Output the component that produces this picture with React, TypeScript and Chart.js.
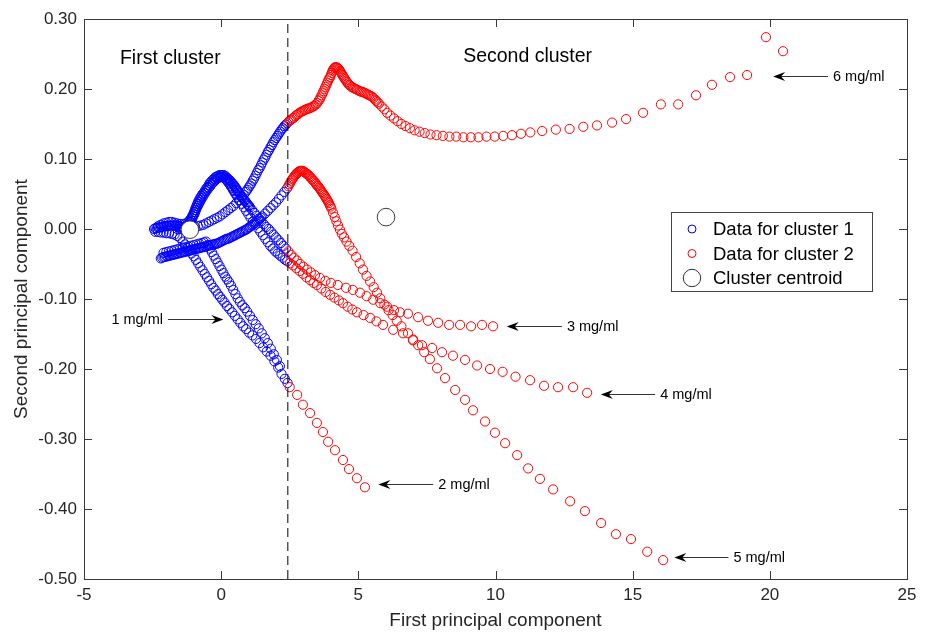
import React, { useEffect, useRef } from "react";
import { Chart, registerables } from "chart.js";
Chart.register(...registerables);

type P = [number, number];

// ---- Trajectory data (first PC, second PC) ----
const t1Blue: P[] = [[-2.10,-0.034],[-2.00,-0.033],[-1.90,-0.032],[-1.80,-0.031],[-1.70,-0.030],[-1.60,-0.029],[-1.50,-0.028],[-1.40,-0.027],[-1.30,-0.026],[-1.20,-0.025],[-1.10,-0.024],[-1.00,-0.023],[-0.90,-0.022],[-0.80,-0.021],[-0.70,-0.020],[-0.62,-0.019],[-0.55,-0.018],[-0.48,-0.023],[-0.41,-0.028],[-0.34,-0.033],[-0.27,-0.038],[-0.20,-0.043],[-0.13,-0.048],[-0.06,-0.053],[0.01,-0.058],[0.08,-0.063],[0.15,-0.068],[0.22,-0.072],[0.29,-0.076],[0.36,-0.081],[0.44,-0.087],[0.52,-0.093],[0.60,-0.099],[0.68,-0.104],[0.77,-0.109],[0.86,-0.113],[0.95,-0.118],[1.05,-0.124],[1.15,-0.130],[1.26,-0.136],[1.37,-0.142],[1.48,-0.149],[1.59,-0.156],[1.70,-0.163],[1.81,-0.171],[1.92,-0.179],[2.03,-0.187],[2.14,-0.196]];

const t2Blue: P[] = [[-2.40,-0.004],[-2.30,-0.004],[-2.20,-0.005],[-2.10,-0.005],[-2.00,-0.006],[-1.90,-0.006],[-1.80,-0.007],[-1.70,-0.008],[-1.60,-0.010],[-1.50,-0.013],[-1.40,-0.018],[-1.32,-0.022],[-1.24,-0.027],[-1.16,-0.031],[-1.08,-0.035],[-1.00,-0.039],[-0.92,-0.044],[-0.84,-0.049],[-0.76,-0.054],[-0.68,-0.059],[-0.60,-0.064],[-0.52,-0.069],[-0.44,-0.074],[-0.36,-0.079],[-0.28,-0.084],[-0.20,-0.088],[-0.12,-0.093],[-0.04,-0.097],[0.04,-0.101],[0.12,-0.105],[0.21,-0.110],[0.30,-0.114],[0.40,-0.119],[0.50,-0.124],[0.60,-0.129],[0.70,-0.134],[0.80,-0.139],[0.91,-0.143],[1.02,-0.148],[1.14,-0.152],[1.27,-0.157],[1.40,-0.163],[1.53,-0.169],[1.66,-0.175],[1.80,-0.181],[1.94,-0.189],[2.08,-0.198],[2.20,-0.207],[2.32,-0.214],[2.42,-0.220]];
const t2Red: P[] = [[2.50,-0.226],[2.77,-0.237],[2.98,-0.251],[3.24,-0.263],[3.49,-0.277],[3.71,-0.290],[3.90,-0.304],[4.15,-0.316],[4.44,-0.330],[4.66,-0.343],[4.95,-0.356],[5.24,-0.369]];

const t3Blue: P[] = [[-2.30,0.004],[-2.20,0.006],[-2.10,0.008],[-2.00,0.009],[-1.90,0.010],[-1.80,0.010],[-1.70,0.009],[-1.60,0.008],[-1.50,0.007],[-1.40,0.007],[-1.30,0.008],[-1.20,0.010],[-1.16,0.012],[-1.12,0.014],[-1.08,0.016],[-1.05,0.019],[-1.02,0.021],[-0.99,0.024],[-0.96,0.027],[-0.93,0.030],[-0.90,0.033],[-0.87,0.036],[-0.84,0.039],[-0.80,0.042],[-0.76,0.045],[-0.72,0.047],[-0.68,0.050],[-0.63,0.052],[-0.59,0.055],[-0.54,0.058],[-0.50,0.060],[-0.45,0.063],[-0.41,0.066],[-0.36,0.068],[-0.31,0.070],[-0.26,0.072],[-0.21,0.074],[-0.16,0.075],[-0.11,0.076],[-0.06,0.077],[-0.01,0.077],[0.04,0.077],[0.09,0.077],[0.13,0.076],[0.17,0.075],[0.21,0.073],[0.25,0.072],[0.29,0.070],[0.33,0.069],[0.37,0.067],[0.41,0.065],[0.44,0.064],[0.48,0.062],[0.51,0.060],[0.55,0.058],[0.58,0.056],[0.61,0.054],[0.64,0.052],[0.67,0.051],[0.70,0.049],[0.74,0.047],[0.77,0.045],[0.81,0.043],[0.84,0.041],[0.88,0.040],[0.91,0.038],[0.95,0.036],[0.98,0.034],[1.02,0.033],[1.05,0.031],[1.13,0.027],[1.21,0.023],[1.29,0.019],[1.37,0.015],[1.46,0.011],[1.55,0.007],[1.64,0.003],[1.73,0.000],[1.82,-0.004],[1.91,-0.008],[2.00,-0.012],[2.09,-0.016],[2.18,-0.020],[2.27,-0.024],[2.36,-0.028]];
const t3Red: P[] = [[2.45,-0.032],[2.55,-0.037],[2.65,-0.041],[2.76,-0.045],[2.88,-0.050],[3.00,-0.054],[3.13,-0.058],[3.27,-0.062],[3.42,-0.066],[3.60,-0.070],[3.80,-0.074],[4.00,-0.077],[4.25,-0.080],[4.55,-0.084],[4.80,-0.087],[5.06,-0.091],[5.30,-0.096],[5.54,-0.101],[5.80,-0.106],[6.05,-0.111],[6.30,-0.116],[6.52,-0.119],[6.81,-0.121],[7.18,-0.126],[7.54,-0.131],[7.91,-0.134],[8.31,-0.137],[8.71,-0.137],[9.11,-0.139],[9.51,-0.137],[9.91,-0.139]];

const t4Blue: P[] = [[-1.60,0.000],[-1.50,0.000],[-1.40,0.001],[-1.30,0.003],[-1.20,0.006],[-1.16,0.008],[-1.12,0.010],[-1.08,0.012],[-1.05,0.015],[-1.02,0.018],[-0.98,0.021],[-0.95,0.024],[-0.92,0.027],[-0.89,0.030],[-0.85,0.033],[-0.81,0.036],[-0.77,0.039],[-0.73,0.042],[-0.68,0.045],[-0.64,0.048],[-0.59,0.051],[-0.55,0.054],[-0.50,0.056],[-0.45,0.059],[-0.40,0.061],[-0.35,0.064],[-0.30,0.066],[-0.25,0.068],[-0.20,0.070],[-0.15,0.072],[-0.10,0.073],[-0.05,0.074],[0.00,0.074],[0.05,0.074],[0.10,0.074],[0.15,0.072],[0.19,0.070],[0.23,0.068],[0.27,0.066],[0.31,0.064],[0.35,0.061],[0.39,0.059],[0.43,0.056],[0.47,0.054],[0.51,0.051],[0.55,0.049],[0.59,0.046],[0.67,0.041],[0.75,0.036],[0.83,0.031],[0.91,0.026],[0.99,0.021],[1.07,0.016],[1.16,0.011],[1.25,0.006],[1.34,0.001],[1.43,-0.004],[1.52,-0.009],[1.61,-0.014],[1.70,-0.019],[1.79,-0.024],[1.88,-0.028],[1.97,-0.032],[2.06,-0.035],[2.15,-0.038],[2.24,-0.041],[2.33,-0.044],[2.41,-0.046]];
const t4Red: P[] = [[2.51,-0.049],[2.62,-0.052],[2.74,-0.056],[2.86,-0.060],[2.98,-0.064],[3.11,-0.069],[3.24,-0.073],[3.37,-0.077],[3.49,-0.080],[3.65,-0.085],[3.81,-0.090],[3.97,-0.094],[4.13,-0.098],[4.29,-0.102],[4.44,-0.106],[4.61,-0.111],[4.78,-0.115],[4.95,-0.119],[5.19,-0.123],[5.43,-0.127],[5.66,-0.132],[5.90,-0.137],[6.27,-0.144],[6.63,-0.149],[6.99,-0.159],[7.32,-0.166],[7.69,-0.170],[8.05,-0.176],[8.45,-0.181],[8.89,-0.187],[9.33,-0.195],[9.80,-0.200],[10.26,-0.204],[10.73,-0.211],[11.26,-0.216],[11.77,-0.224],[12.28,-0.226],[12.83,-0.226],[13.34,-0.234]];

const t5Blue: P[] = [[-2.20,-0.042],[-2.15,-0.041],[-2.10,-0.040],[-2.05,-0.040],[-2.00,-0.039],[-1.95,-0.039],[-1.90,-0.038],[-1.85,-0.038],[-1.80,-0.037],[-1.75,-0.037],[-1.70,-0.036],[-1.65,-0.036],[-1.60,-0.035],[-1.55,-0.035],[-1.50,-0.034],[-1.45,-0.034],[-1.40,-0.033],[-1.35,-0.033],[-1.30,-0.032],[-1.25,-0.032],[-1.20,-0.031],[-1.15,-0.031],[-1.10,-0.030],[-1.05,-0.030],[-1.00,-0.029],[-0.95,-0.029],[-0.90,-0.028],[-0.85,-0.028],[-0.80,-0.027],[-0.75,-0.027],[-0.70,-0.026],[-0.65,-0.026],[-0.60,-0.025],[-0.55,-0.025],[-0.50,-0.024],[-0.45,-0.024],[-0.40,-0.023],[-0.35,-0.023],[-0.30,-0.022],[-0.25,-0.022],[-0.20,-0.021],[-0.15,-0.021],[-0.10,-0.020],[-0.05,-0.019],[0.00,-0.018],[0.05,-0.017],[0.10,-0.016],[0.15,-0.015],[0.20,-0.014],[0.25,-0.014],[0.30,-0.013],[0.35,-0.012],[0.40,-0.011],[0.45,-0.010],[0.50,-0.009],[0.55,-0.008],[0.60,-0.007],[0.65,-0.006],[0.70,-0.005],[0.75,-0.004],[0.80,-0.003],[0.85,-0.002],[0.90,-0.001],[0.95,0.000],[1.00,0.002],[1.05,0.003],[1.10,0.005],[1.15,0.006],[1.20,0.008],[1.25,0.009],[1.30,0.011],[1.35,0.012],[1.40,0.014],[1.45,0.016],[1.50,0.018],[1.60,0.022],[1.70,0.026],[1.80,0.030],[1.90,0.034],[2.00,0.038],[2.10,0.043],[2.20,0.048],[2.30,0.053],[2.40,0.058]];
const t5Red: P[] = [[2.45,0.061],[2.485,0.064],[2.52,0.066],[2.555,0.069],[2.59,0.071],[2.625,0.073],[2.66,0.075],[2.695,0.077],[2.73,0.078],[2.765,0.080],[2.80,0.081],[2.835,0.082],[2.87,0.083],[2.905,0.083],[2.94,0.083],[2.975,0.083],[3.01,0.082],[3.045,0.081],[3.08,0.080],[3.115,0.079],[3.15,0.078],[3.185,0.077],[3.22,0.075],[3.255,0.074],[3.29,0.072],[3.325,0.071],[3.36,0.069],[3.395,0.068],[3.43,0.066],[3.465,0.064],[3.50,0.062],[3.535,0.061],[3.57,0.059],[3.605,0.057],[3.64,0.055],[3.675,0.053],[3.71,0.051],[3.745,0.049],[3.78,0.047],[3.81,0.045],[3.84,0.043],[3.87,0.041],[3.90,0.039],[3.93,0.037],[3.96,0.034],[3.99,0.032],[4.02,0.029],[4.08,0.023],[4.14,0.017],[4.20,0.011],[4.26,0.005],[4.33,-0.001],[4.40,-0.007],[4.48,-0.012],[4.57,-0.018],[4.67,-0.024],[4.79,-0.031],[4.92,-0.040],[5.05,-0.049],[5.17,-0.058],[5.30,-0.067],[5.43,-0.075],[5.56,-0.083],[5.68,-0.091],[5.80,-0.099],[5.95,-0.108],[6.10,-0.116],[6.25,-0.123],[6.40,-0.131],[6.57,-0.139],[6.81,-0.149],[7.00,-0.158],[7.18,-0.166],[7.40,-0.176],[7.61,-0.186],[7.87,-0.199],[8.16,-0.213],[8.53,-0.230],[8.89,-0.244],[9.18,-0.259],[9.62,-0.275],[9.98,-0.291],[10.35,-0.306],[10.79,-0.323],[11.19,-0.342],[11.62,-0.357],[12.10,-0.372],[12.72,-0.389],[13.26,-0.403],[13.85,-0.420],[14.39,-0.436],[14.94,-0.443],[15.53,-0.461],[16.11,-0.473]];

const t6Blue: P[] = [[-2.45,0.000],[-2.40,0.001],[-2.35,0.001],[-2.30,0.002],[-2.25,0.002],[-2.20,0.003],[-2.15,0.003],[-2.10,0.004],[-2.05,0.004],[-2.00,0.004],[-1.95,0.004],[-1.90,0.005],[-1.85,0.005],[-1.80,0.005],[-1.75,0.005],[-1.70,0.005],[-1.65,0.005],[-1.60,0.005],[-1.55,0.004],[-1.50,0.004],[-1.45,0.003],[-1.40,0.003],[-1.35,0.002],[-1.30,0.002],[-1.25,0.001],[-1.20,0.001],[-1.15,0.001],[-1.10,0.001],[-1.05,0.002],[-1.00,0.002],[-0.95,0.003],[-0.85,0.004],[-0.75,0.005],[-0.65,0.006],[-0.55,0.008],[-0.45,0.010],[-0.35,0.012],[-0.25,0.014],[-0.15,0.016],[-0.05,0.018],[0.05,0.021],[0.15,0.024],[0.25,0.027],[0.35,0.030],[0.45,0.033],[0.55,0.037],[0.65,0.041],[0.75,0.045],[0.82,0.049],[0.90,0.053],[0.95,0.056],[1.00,0.059],[1.05,0.062],[1.10,0.065],[1.15,0.069],[1.20,0.072],[1.25,0.076],[1.30,0.080],[1.35,0.084],[1.40,0.087],[1.45,0.091],[1.50,0.095],[1.55,0.099],[1.60,0.102],[1.65,0.106],[1.70,0.110],[1.75,0.113],[1.80,0.117],[1.85,0.120],[1.90,0.124],[1.95,0.127],[2.00,0.130],[2.05,0.133],[2.10,0.136],[2.15,0.139],[2.20,0.142],[2.25,0.144],[2.30,0.147],[2.35,0.149],[2.40,0.151]];
const t6Red: P[] = [[2.45,0.153],[2.50,0.155],[2.55,0.156],[2.60,0.158],[2.65,0.159],[2.70,0.161],[2.75,0.163],[2.80,0.164],[2.85,0.166],[2.90,0.167],[2.95,0.168],[3.00,0.169],[3.05,0.170],[3.10,0.171],[3.15,0.172],[3.20,0.172],[3.25,0.173],[3.30,0.174],[3.35,0.175],[3.40,0.176],[3.45,0.178],[3.50,0.180],[3.55,0.183],[3.59,0.185],[3.62,0.188],[3.66,0.191],[3.70,0.194],[3.73,0.197],[3.77,0.200],[3.80,0.203],[3.84,0.206],[3.87,0.209],[3.90,0.212],[3.94,0.215],[3.97,0.217],[4.00,0.220],[4.03,0.223],[4.06,0.226],[4.09,0.228],[4.12,0.230],[4.15,0.231],[4.18,0.231],[4.21,0.231],[4.24,0.230],[4.27,0.229],[4.30,0.228],[4.33,0.226],[4.36,0.224],[4.39,0.222],[4.42,0.220],[4.45,0.218],[4.48,0.216],[4.51,0.214],[4.55,0.212],[4.58,0.210],[4.62,0.208],[4.66,0.206],[4.70,0.205],[4.75,0.203],[4.80,0.202],[4.85,0.201],[4.90,0.200],[4.95,0.199],[5.00,0.198],[5.05,0.197],[5.10,0.196],[5.15,0.196],[5.20,0.195],[5.25,0.194],[5.30,0.193],[5.35,0.192],[5.40,0.191],[5.45,0.190],[5.50,0.189],[5.55,0.187],[5.60,0.185],[5.65,0.183],[5.70,0.181],[5.75,0.179],[5.85,0.175],[5.95,0.171],[6.05,0.166],[6.17,0.162],[6.30,0.158],[6.43,0.154],[6.57,0.150],[6.72,0.147],[6.88,0.144],[7.05,0.141],[7.23,0.139],[7.42,0.137],[7.63,0.135],[7.85,0.134],[8.08,0.133],[8.32,0.132],[8.57,0.132],[8.83,0.131],[9.10,0.131],[9.38,0.131],[9.67,0.132],[9.97,0.132],[10.28,0.133],[10.60,0.134],[10.93,0.136],[11.27,0.138],[11.70,0.140],[12.20,0.142],[12.70,0.143],[13.20,0.146],[13.70,0.148],[14.25,0.152],[14.76,0.157],[15.38,0.166],[16.03,0.178],[16.66,0.178],[17.31,0.191],[17.89,0.206],[18.55,0.217],[19.17,0.220],[19.86,0.274],[20.48,0.254]];

const centroids: P[] = [[-1.14, -0.001], [6.01, 0.017]];
const dividerX = 2.43;

const xTicks = [-5, 0, 5, 10, 15, 20, 25];
const yTicks = [-0.5, -0.4, -0.3, -0.2, -0.1, 0, 0.1, 0.2, 0.3];

const concentrationLabels = ["1 mg/ml", "2 mg/ml", "3 mg/ml", "4 mg/ml", "5 mg/ml", "6 mg/ml"];
// arrow tip and tail, in data coordinates
const arrowTips: P[] = [[0.08, -0.1286], [5.73, -0.364], [10.41, -0.138], [13.84, -0.236], [16.52, -0.469], [20.12, 0.2186]];
const arrowTails: P[] = [[-1.94, -0.1286], [7.73, -0.364], [12.42, -0.138], [15.82, -0.236], [18.49, -0.469], [22.12, 0.2186]];

const regionLabels = ["First cluster", "Second cluster"];
const regionLabelPos: P[] = [[-3.69, 0.243], [8.82, 0.246]];

const legendLabels = ["Data for cluster 1", "Data for cluster 2", "Cluster centroid"];

const FONT = '"Liberation Sans", Arial, Helvetica, sans-serif';
const BLUE = "rgb(0,0,255)";
const RED = "rgb(255,0,0)";
const AXIS = "#262626";

const toXY = (a: P[]) => a.map(([x, y]) => ({ x, y }));

const framePlugin = {
  id: "frame",
  afterDraw(chart: any) {
    const { ctx, chartArea } = chart;
    const { left, right, top, bottom } = chartArea;
    const xs = chart.scales.x;
    const ys = chart.scales.y;
    ctx.save();
    ctx.strokeStyle = "#3a3a3a";
    ctx.lineWidth = 1;
    ctx.strokeRect(Math.round(left) + 0.5, Math.round(top) + 0.5, Math.round(right - left), Math.round(bottom - top));
    const tl = 8;
    ctx.beginPath();
    xTicks.forEach((v) => {
      const px = Math.round(xs.getPixelForValue(v)) + 0.5;
      ctx.moveTo(px, bottom);
      ctx.lineTo(px, bottom - tl);
      ctx.moveTo(px, top);
      ctx.lineTo(px, top + tl);
    });
    yTicks.forEach((v) => {
      const py = Math.round(ys.getPixelForValue(v)) + 0.5;
      ctx.moveTo(left, py);
      ctx.lineTo(left + tl, py);
      ctx.moveTo(right, py);
      ctx.lineTo(right - tl, py);
    });
    ctx.stroke();

    // region labels
    ctx.fillStyle = "#000";
    ctx.font = `19.5px ${FONT}`;
    ctx.textBaseline = "middle";
    ctx.textAlign = "left";
    regionLabels.forEach((t, i) => {
      const [x, y] = regionLabelPos[i];
      ctx.fillText(t, xs.getPixelForValue(x), ys.getPixelForValue(y));
    });

    // arrows with concentration labels
    ctx.font = `14.5px ${FONT}`;
    concentrationLabels.forEach((t, i) => {
      const tx = xs.getPixelForValue(arrowTips[i][0]);
      const ty = Math.round(ys.getPixelForValue(arrowTips[i][1])) + 0.5;
      const sx = xs.getPixelForValue(arrowTails[i][0]);
      const dir = sx > tx ? 1 : -1;
      ctx.strokeStyle = "#333";
      ctx.lineWidth = 1;
      ctx.beginPath();
      ctx.moveTo(sx, ty);
      ctx.lineTo(tx + dir * 6, ty);
      ctx.stroke();
      ctx.fillStyle = "#000";
      ctx.beginPath();
      ctx.moveTo(tx, ty);
      ctx.lineTo(tx + dir * 12, ty - 4.5);
      ctx.lineTo(tx + dir * 8, ty);
      ctx.lineTo(tx + dir * 12, ty + 4.5);
      ctx.closePath();
      ctx.fill();
      if (dir > 0) {
        ctx.textAlign = "left";
        ctx.fillText(t, sx + 5, ty);
      } else {
        ctx.textAlign = "right";
        ctx.fillText(t, sx - 5, ty);
      }
    });

    // legend box
    const bx = 671.5, by = 212.5, bw = 201, bh = 79;
    ctx.fillStyle = "#fff";
    ctx.fillRect(bx, by, bw, bh);
    ctx.strokeStyle = "#444";
    ctx.lineWidth = 1;
    ctx.strokeRect(bx, by, bw, bh);
    const rows = [229, 253.5, 278];
    const colors = [BLUE, RED, "#333"];
    const radii = [4, 4, 8.7];
    ctx.font = `18.5px ${FONT}`;
    ctx.textAlign = "left";
    legendLabels.forEach((t, i) => {
      ctx.beginPath();
      ctx.strokeStyle = colors[i];
      ctx.lineWidth = 1;
      ctx.arc(692, rows[i], radii[i], 0, Math.PI * 2);
      ctx.stroke();
      ctx.fillStyle = "#000";
      ctx.fillText(t, 713, rows[i] + 1);
    });
    ctx.restore();
  },
};

export default function App() {
  const ref = useRef<HTMLCanvasElement>(null);
  useEffect(() => {
    document.body.style.margin = "0";
    const canvas = ref.current!;
    Chart.defaults.font.family = FONT;
    const blue = [...t1Blue, ...t2Blue, ...t3Blue, ...t4Blue, ...t5Blue, ...t6Blue];
    const red = [...t2Red, ...t3Red, ...t4Red, ...t5Red, ...t6Red];
    const fmtY = (v: any) => {
      const n = Number(v);
      return Math.abs(n) < 1e-9 ? "0.00" : n.toFixed(2);
    };
    const chart = new Chart(canvas, {
      type: "scatter",
      data: {
        datasets: [
          {
            label: "Cluster centroid",
            data: toXY(centroids),
            order: 0,
            pointRadius: 8.8,
            pointBorderColor: "#3c3c3c",
            pointBackgroundColor: "#ffffff",
            pointBorderWidth: 1,
          } as any,
          {
            label: "divider",
            data: [{ x: dividerX, y: -0.5 }, { x: dividerX, y: 0.3 }],
            showLine: true,
            borderColor: "#000000",
            borderWidth: 1,
            borderDash: [9, 5],
            pointRadius: 0,
            order: 1,
          } as any,
          {
            label: "Data for cluster 2",
            data: toXY(red),
            order: 2,
            pointRadius: 4.6,
            pointBorderWidth: 1,
            pointBorderColor: RED,
            pointBackgroundColor: "rgba(0,0,0,0)",
          } as any,
          {
            label: "Data for cluster 1",
            data: toXY(blue),
            order: 3,
            pointRadius: 4.6,
            pointBorderWidth: 1,
            pointBorderColor: BLUE,
            pointBackgroundColor: "rgba(0,0,0,0)",
          } as any,
        ],
      },
      options: {
        animation: false,
        responsive: false,
        layout: { padding: { left: 0, top: 19, right: 24, bottom: 0 } },
        plugins: { legend: { display: false }, tooltip: { enabled: false } },
        scales: {
          x: {
            type: "linear",
            min: -5,
            max: 25,
            afterBuildTicks: (s: any) => {
              s.ticks = xTicks.map((v) => ({ value: v }));
            },
            afterFit: (s: any) => {
              s.height = 53;
            },
            grid: { display: false, drawTicks: false },
            border: { display: false },
            ticks: { padding: 6, color: AXIS, font: { size: 17 }, callback: (v: any) => String(v) },
            title: {
              display: true,
              text: "First principal component",
              color: AXIS,
              font: { size: 19 },
              padding: { top: 0, bottom: 0 },
            },
          },
          y: {
            type: "linear",
            min: -0.5,
            max: 0.3,
            afterBuildTicks: (s: any) => {
              s.ticks = yTicks.map((v) => ({ value: v }));
            },
            afterFit: (s: any) => {
              s.width = 84;
            },
            grid: { display: false, drawTicks: false },
            border: { display: false },
            ticks: { padding: 7, color: AXIS, font: { size: 17 }, callback: fmtY },
            title: {
              display: true,
              text: "Second principal component",
              color: AXIS,
              font: { size: 19 },
              padding: { top: 10.6, bottom: 0 },
            },
          },
        },
      } as any,
      plugins: [framePlugin],
    });
    return () => chart.destroy();
  }, []);
  return <canvas ref={ref} width={931} height={632} style={{ display: "block" }} />;
}
